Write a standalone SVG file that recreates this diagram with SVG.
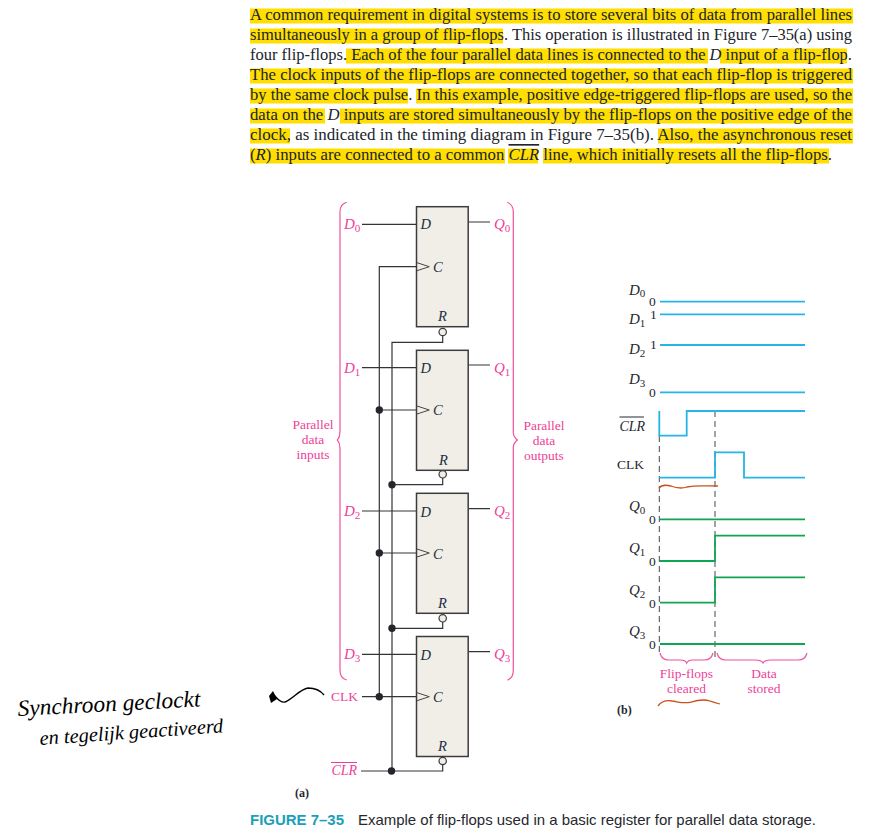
<svg xmlns="http://www.w3.org/2000/svg" width="882" height="837" viewBox="0 0 882 837">
<style>
text{font-family:"Liberation Serif","Times New Roman",serif}
.body{font-size:16.6px;fill:#20242c}
.i{font-style:italic}
.hl{fill:#ffde00}
.ff{fill:#f0eee6;stroke:#3c3c3e;stroke-width:1.5}
.lbl{font-size:14.5px;font-style:italic;fill:#1f2c44}
.pink{font-size:13.5px;fill:#ee3f98}
.pi{font-size:15px;font-style:italic;fill:#ee3f98}
.sub{font-size:11px;font-style:normal}
.w{fill:none;stroke:#333438;stroke-width:1.2}
.tri{fill:none;stroke:#44464a;stroke-width:1}
.dot{fill:#24262c}
.bub{fill:#f0eee6;stroke:#3c3c3e;stroke-width:1.2}
.brace{fill:none;stroke:#f0529f;stroke-width:1.2}
.blue{fill:none;stroke:#27b4e6;stroke-width:1.8}
.green{fill:none;stroke:#12a455;stroke-width:1.8}
.dash{fill:none;stroke:#44464a;stroke-width:1;stroke-dasharray:6 4}
.tl{font-size:15px;font-style:italic;fill:#25282e}
.tn{font-size:13.5px;fill:#25282e}
.or{fill:none;stroke:#c9501c;stroke-width:1.3}
.hand{font-style:italic;fill:#000}
</style>
<g id="paragraph">
<rect class="hl" x="250" y="8.500" width="603" height="15"/>
<rect class="hl" x="250" y="28.500" width="253" height="15"/>
<rect class="hl" x="346" y="48.500" width="362" height="15"/>
<rect class="hl" x="720" y="48.500" width="127" height="15"/>
<rect class="hl" x="250" y="68.500" width="603" height="15"/>
<rect class="hl" x="250" y="88.500" width="158" height="15"/>
<rect class="hl" x="416" y="88.500" width="437" height="15"/>
<rect class="hl" x="250" y="108.500" width="75" height="15"/>
<rect class="hl" x="340" y="108.500" width="513" height="15"/>
<rect class="hl" x="250" y="128.500" width="40" height="15"/>
<rect class="hl" x="658" y="128.500" width="195" height="15"/>
<rect class="hl" x="250" y="148.500" width="255" height="15"/>
<rect class="hl" x="508" y="148.500" width="30" height="15"/>
<rect class="hl" x="543" y="148.500" width="286" height="15"/>
<text class="body" x="250" y="20" textLength="602" lengthAdjust="spacingAndGlyphs">A common requirement in digital systems is to store several bits of data from parallel lines</text>
<text class="body" x="250" y="40" textLength="602" lengthAdjust="spacingAndGlyphs">simultaneously in a group of flip-flops. This operation is illustrated in Figure 7–35(a) using</text>
<text class="body" x="250" y="60" textLength="602" lengthAdjust="spacingAndGlyphs">four flip-flops. Each of the four parallel data lines is connected to the <tspan class="i">D</tspan> input of a flip-flop.</text>
<text class="body" x="250" y="80" textLength="602" lengthAdjust="spacingAndGlyphs">The clock inputs of the flip-flops are connected together, so that each flip-flop is triggered</text>
<text class="body" x="250" y="100" textLength="602" lengthAdjust="spacingAndGlyphs">by the same clock pulse. In this example, positive edge-triggered flip-flops are used, so the</text>
<text class="body" x="250" y="120" textLength="602" lengthAdjust="spacingAndGlyphs">data on the <tspan class="i">D</tspan> inputs are stored simultaneously by the flip-flops on the positive edge of the</text>
<text class="body" x="250" y="140" textLength="602" lengthAdjust="spacingAndGlyphs">clock, as indicated in the timing diagram in Figure 7–35(b). Also, the asynchronous reset</text>
<text class="body" x="250" y="160" textLength="582" lengthAdjust="spacingAndGlyphs">(<tspan class="i">R</tspan>) inputs are connected to a common <tspan class="i" text-decoration="overline">CLR</tspan> line, which initially resets all the flip-flops.</text>
</g>
<g id="connectors">
<path class="w" d="M362 224.300H416M469 222H490M362 367.700H416M469 365H490M362 511H416M469 508.700H490M362 654.300H416M469 651.700H490"/>
<path class="w" d="M379.300 696.700V266.700H417M379.300 410H417M379.300 553H417M362 696.700H417"/>
<path class="w" d="M442.700 336V342.300H392V771M442.700 478V484.700H392M442.700 622V628.300H392M361 771H442.700V765"/>
<circle class="dot" cx="379.300" cy="410" r="3.700"/>
<circle class="dot" cx="379.300" cy="553" r="3.700"/>
<circle class="dot" cx="379.300" cy="696.700" r="3.700"/>
<circle class="dot" cx="392" cy="484.700" r="3.700"/>
<circle class="dot" cx="392" cy="628.300" r="3.700"/>
<circle class="dot" cx="391.500" cy="771" r="3.700"/>
</g>
<g id="ff0">
<rect class="ff" x="416.500" y="206.700" width="51.700" height="120"/>
<path class="tri" d="M417 262.700L429.300 266.700L417 270.700"/>
<circle class="bub" cx="442.700" cy="332" r="3.700"/>
<text class="lbl" x="420.500" y="229">D</text><text class="lbl" x="433" y="272">C</text><text class="lbl" x="438" y="321">R</text>
</g>
<g id="ff1">
<rect class="ff" x="416.500" y="350.300" width="51.700" height="120"/>
<path class="tri" d="M417 406L429.300 410L417 414"/>
<circle class="bub" cx="442.700" cy="474.300" r="3.700"/>
<text class="lbl" x="420.500" y="373">D</text><text class="lbl" x="433" y="415">C</text><text class="lbl" x="439" y="465">R</text>
</g>
<g id="ff2">
<rect class="ff" x="416.500" y="493.300" width="51.700" height="120"/>
<path class="tri" d="M417 549L429.300 553L417 557"/>
<circle class="bub" cx="442.700" cy="618.300" r="3.700"/>
<text class="lbl" x="420.500" y="517">D</text><text class="lbl" x="433" y="559">C</text><text class="lbl" x="438" y="608">R</text>
</g>
<g id="ff3">
<rect class="ff" x="416.500" y="636.500" width="51.700" height="120"/>
<path class="tri" d="M417 692.700L429.300 696.700L417 700.700"/>
<circle class="bub" cx="442.700" cy="761" r="3.700"/>
<text class="lbl" x="420.500" y="660">D</text><text class="lbl" x="433" y="702">C</text><text class="lbl" x="438" y="751">R</text>
</g>
<g id="inputs">
<path class="brace" d="M346.700 202.300C342 204 340 206 340 212V432C340 437 339 438 337.300 440C339 442 340 443 340 448V670C340 676 342 679 346.700 680"/>
<text class="pink" x="313" y="429" text-anchor="middle">Parallel</text>
<text class="pink" x="313" y="444" text-anchor="middle">data</text>
<text class="pink" x="313" y="459" text-anchor="middle">inputs</text>
<text class="pi" x="344" y="229">D<tspan class="sub" dy="3">0</tspan></text>
<text class="pi" x="344" y="372.500">D<tspan class="sub" dy="3">1</tspan></text>
<text class="pi" x="344" y="516">D<tspan class="sub" dy="3">2</tspan></text>
<text class="pi" x="344" y="659">D<tspan class="sub" dy="3">3</tspan></text>
<text class="pink" x="331" y="701">CLK</text>
<text class="pi" x="331.500" y="775" style="font-size:14px">CLR</text>
<path d="M331 762.500H357" fill="none" stroke="#ee3f98" stroke-width="1"/>
</g>
<g id="outputs">
<path class="brace" d="M507.300 202.300C511 204 513.300 206 513.300 212V432C513.300 437 515 438 517.300 440C515 442 513.300 443 513.300 448V670C513.300 676 511 679 507.300 680"/>
<text class="pink" x="544" y="430" text-anchor="middle">Parallel</text>
<text class="pink" x="544" y="445" text-anchor="middle">data</text>
<text class="pink" x="544" y="460" text-anchor="middle">outputs</text>
<text class="pi" x="494" y="229">Q<tspan class="sub" dy="3">0</tspan></text>
<text class="pi" x="494" y="372.500">Q<tspan class="sub" dy="3">1</tspan></text>
<text class="pi" x="494" y="516">Q<tspan class="sub" dy="3">2</tspan></text>
<text class="pi" x="494" y="659">Q<tspan class="sub" dy="3">3</tspan></text>
</g>
<text x="295" y="797" font-size="12" fill="#25282e" style="font-weight:bold">(a)</text>
<g id="timing">
<path class="dash" d="M659.300 436V656M715 411V658"/>
<path class="blue" d="M660 301.700H805M660 314.300H805M660 345H805M660 392.300H805"/>
<path class="blue" d="M659.300 411V435.700H686.700V411H805"/>
<path class="blue" d="M659.300 477.700H715V452.300H744V477.700H805"/>
<path class="green" d="M660 519.300H805M660 561H715V535.700H805M660 602.700H715V577.300H805M660 644H805"/>
<g>
<text class="tl" x="629" y="295">D<tspan class="sub" dy="2">0</tspan></text><text class="tn" x="649" y="306">0</text>
<text class="tl" x="629" y="324">D<tspan class="sub" dy="3">1</tspan></text><text class="tn" x="650" y="319">1</text>
<text class="tl" x="629" y="354">D<tspan class="sub" dy="3">2</tspan></text><text class="tn" x="650" y="349">1</text>
<text class="tl" x="629" y="384">D<tspan class="sub" dy="3">3</tspan></text><text class="tn" x="649" y="397">0</text>
<text class="tl" x="619.500" y="431" style="font-size:14px">CLR</text>
<path d="M619.500 417H644" fill="none" stroke="#25282e" stroke-width="1"/>
<text class="tn" x="617" y="469">CLK</text>
<text class="tl" x="629" y="511">Q<tspan class="sub" dy="3">0</tspan></text><text class="tn" x="649" y="524">0</text>
<text class="tl" x="629" y="553">Q<tspan class="sub" dy="3">1</tspan></text><text class="tn" x="649" y="566">0</text>
<text class="tl" x="629" y="595">Q<tspan class="sub" dy="3">2</tspan></text><text class="tn" x="649" y="608">0</text>
<text class="tl" x="629" y="636">Q<tspan class="sub" dy="3">3</tspan></text><text class="tn" x="649" y="649">0</text>
</g>
<path class="brace" d="M660 653C661 657 664 660 669 660H680C684 660 686 661 686.700 663C687.500 661 689 660 693 660H704C709 660 712 657 713 653"/>
<path class="brace" d="M717 653C718 657 721 660 726 660H755C759 660 762 661 763 663C764 661 767 660 771 660H798C803 660 806 657 807 653"/>
<text class="pink" x="686.500" y="678" text-anchor="middle">Flip-flops</text>
<text class="pink" x="686.500" y="693" text-anchor="middle">cleared</text>
<text class="pink" x="764" y="678" text-anchor="middle">Data</text>
<text class="pink" x="764" y="693" text-anchor="middle">stored</text>
<text x="617" y="714" font-size="12" fill="#25282e" style="font-weight:bold">(b)</text>
</g>
<g id="annotations">
<path class="or" d="M659 488C662 484 667 485 671 486C676 488 681 489 687 487C695 485 706 486 718 486"/>
<path class="or" d="M658 706C661 702 666 700 672 701C679 702 684 704 691 702C698 700 704 699 710 701C713 702 717 703 720 704"/>
<path d="M324 695C320 690 315 688 308 688C300 689 293 699 285 702C280 703 277 698 274 695" fill="none" stroke="#000" stroke-width="1.400"/>
<path d="M269 696L273 691L277 699L271 703Z" fill="#000"/>
<text class="hand" x="18" y="716" font-size="23" textLength="183" lengthAdjust="spacingAndGlyphs" transform="rotate(-3 18 716)">Synchroon geclockt</text>
<text class="hand" x="40" y="745" font-size="20" textLength="184" lengthAdjust="spacingAndGlyphs" transform="rotate(-4 40 745)">en tegelijk geactiveerd</text>
</g>
<g id="caption">
<text x="250" y="825" font-size="14" textLength="94" lengthAdjust="spacingAndGlyphs" style="font-family:'Liberation Sans',Arial,sans-serif;font-weight:bold;fill:#1aa0b8">FIGURE 7–35</text>
<text x="358" y="825" font-size="14.500" textLength="458" lengthAdjust="spacingAndGlyphs" style="font-family:'Liberation Sans',Arial,sans-serif;fill:#25282e">Example of flip-flops used in a basic register for parallel data storage.</text>
</g>
</svg>
